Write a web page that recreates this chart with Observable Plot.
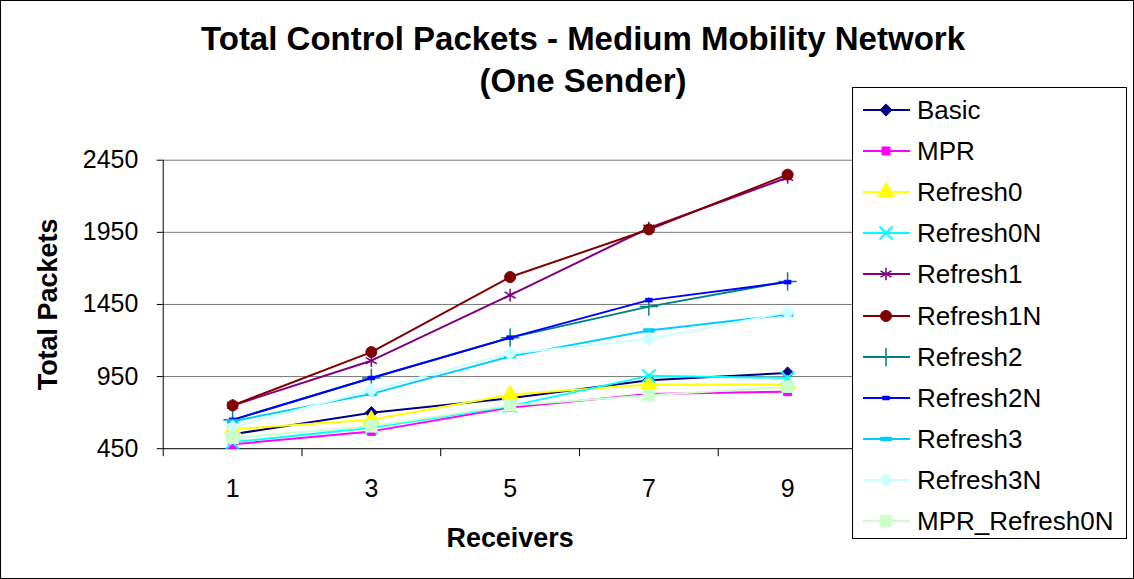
<!DOCTYPE html>
<html>
<head>
<meta charset="utf-8">
<script src="https://cdn.jsdelivr.net/npm/d3@7"></script>
<script src="https://cdn.jsdelivr.net/npm/@observablehq/plot@0.6"></script>
<style>
  html, body { margin: 0; padding: 0; background: #fff; }
  #chart { position: relative; width: 1134px; height: 579px; box-sizing: border-box; border: 1px solid #000; background: #fff; overflow: hidden; font-family: "Liberation Sans", Arial, sans-serif; }
  #chart svg.plot { position: absolute; left: -1px; top: -1px; }
  #title { position: absolute; left: 23px; width: 1118px; top: 17px; text-align: center; font-weight: bold; font-size: 33px; line-height: 42px; color: #000; }
  #legend { position: absolute; left: 851px; top: 86px; width: 275px; height: 452px; box-sizing: border-box; border: 1px solid #000; background: #fff; }
  .lg-row { position: absolute; left: 0; height: 40px; width: 270px; }
  .lg-row svg { position: absolute; left: 0; top: 0; }
  .lg-row span { position: absolute; left: 64px; top: 0; line-height: 40px; font-size: 26px; color: #000; white-space: nowrap; }
</style>
</head>
<body>
<div id="chart">
  <div id="title">Total Control Packets - Medium Mobility Network<br>(One Sender)</div>
</div>
<script>
// ---- data ----
const receivers = [1, 3, 5, 7, 9];
const yTicks = [450, 950, 1450, 1950, 2450];
const seriesNames = ["Basic", "MPR", "Refresh0", "Refresh0N", "Refresh1", "Refresh1N", "Refresh2", "Refresh2N", "Refresh3", "Refresh3N", "MPR_Refresh0N"];
const basic        = [550, 700, 800, 925, 975];
const mpr          = [480, 570, 735, 830, 845];
const refresh0     = [585, 650, 825, 895, 895];
const refresh0N    = [495, 595, 745, 955, 940];
const refresh1     = [750, 1060, 1515, 1980, 2330];
const refresh1N    = [750, 1120, 1640, 1970, 2350];
const refresh2     = [650, 940, 1220, 1435, 1610];
const refresh2N    = [650, 940, 1220, 1480, 1605];
const refresh3     = [640, 830, 1090, 1270, 1380];
const refresh3N    = [600, 855, 1110, 1210, 1395];
const mprRefresh0N = [525, 605, 750, 820, 880];
const seriesValues = [basic, mpr, refresh0, refresh0N, refresh1, refresh1N, refresh2, refresh2N, refresh3, refresh3N, mprRefresh0N];

// ---- styles ----
function rectSymbol(w, h) {
  return { draw(ctx) { ctx.moveTo(-w/2, -h/2); ctx.lineTo(w/2, -h/2); ctx.lineTo(w/2, h/2); ctx.lineTo(-w/2, h/2); ctx.closePath(); } };
}
const styles = {
  "Basic":         { color: "#000080", symbol: "diamond2", r: 5.5, fill: true,  sw: 1 },
  "MPR":           { color: "#FF00FF", symbol: "square",   r: 4.5, fill: true,  sw: 1 },
  "Refresh0":      { color: "#FFFF00", symbol: "triangle", r: 6,   fill: true,  sw: 1 },
  "Refresh0N":     { color: "#00FFFF", symbol: "times",    r: 6,   fill: false, sw: 2 },
  "Refresh1":      { color: "#800080", symbol: "asterisk", r: 6,   fill: false, sw: 1.5 },
  "Refresh1N":     { color: "#800000", symbol: "circle",   r: 5.5, fill: true,  sw: 1 },
  "Refresh2":      { color: "#008080", symbol: "plus",     r: 6,   fill: false, sw: 1.5 },
  "Refresh2N":     { color: "#0000FF", symbol: rectSymbol(7, 4),  r: 4, fill: true, sw: 0.5 },
  "Refresh3":      { color: "#00CCFF", symbol: rectSymbol(11, 4), r: 4, fill: true, sw: 0.5 },
  "Refresh3N":     { color: "#CCFFFF", symbol: "diamond2", r: 6,   fill: true,  sw: 1 },
  "MPR_Refresh0N": { color: "#CCFFCC", symbol: "square",   r: 6.5, fill: true,  sw: 1 }
};

const rows = seriesNames.flatMap((name, k) => receivers.map((x, i) => ({ series: name, x, y: seriesValues[k][i] })));

const font = '"Liberation Sans", Arial, sans-serif';
const seriesMarks = seriesNames.flatMap(name => {
  const s = styles[name];
  const d = rows.filter(r => r.series === name);
  return [
    Plot.line(d, { x: "x", y: "y", stroke: s.color, strokeWidth: 2 }),
    Plot.dot(d, { x: "x", y: "y", symbol: s.symbol, r: s.r, fill: s.fill ? s.color : "none", stroke: s.color, strokeWidth: s.sw })
  ];
});

const plot = Plot.plot({
  width: 1134,
  height: 579,
  marginLeft: 163,
  marginRight: 276,
  marginTop: 160,
  marginBottom: 130,
  style: { fontFamily: font, background: "transparent", color: "#000" },
  x: { type: "linear", domain: [0, 10] },
  y: { type: "linear", domain: [450, 2450] },
  marks: [
    Plot.gridY(yTicks.slice(1), { stroke: "#777", strokeOpacity: 1, strokeWidth: 1 }),
    Plot.ruleX([0], { stroke: "#000", strokeWidth: 1 }),
    Plot.ruleY([450], { stroke: "#000", strokeWidth: 1 }),
    Plot.axisY({ ticks: yTicks, tickSize: 6, tickPadding: 19, fontSize: 25, label: null, tickFormat: d => String(d) }),
    Plot.axisX({ ticks: [0, 2, 4, 6, 8, 10], tickSize: 8, tickFormat: () => "", label: null }),
    Plot.axisX({ ticks: receivers, tickSize: 0, tickPadding: 31, fontSize: 25, label: null, tickFormat: d => String(d) }),
    Plot.text(["Total Packets"], { frameAnchor: "left", dx: -115, rotate: -90, textAnchor: "middle", lineAnchor: "middle", fontSize: 27, fontWeight: "bold", fill: "#000" }),
    Plot.text(["Receivers"], { frameAnchor: "bottom", dy: 90, textAnchor: "middle", lineAnchor: "middle", fontSize: 27, fontWeight: "bold", fill: "#000" }),
    ...seriesMarks
  ]
});
plot.classList.add("plot");
const chart = document.getElementById("chart");
chart.appendChild(plot);

// ---- legend ----
const legend = document.createElement("div");
legend.id = "legend";
chart.appendChild(legend);
const d3Sym = { diamond2: d3.symbolDiamond2, square: d3.symbolSquare, triangle: d3.symbolTriangle, times: d3.symbolTimes, asterisk: d3.symbolAsterisk, circle: d3.symbolCircle, plus: d3.symbolPlus };
seriesNames.forEach((name, i) => {
  const s = styles[name];
  const row = document.createElement("div");
  row.className = "lg-row";
  row.style.top = (2 + i * 41.1) + "px";
  const svg = d3.create("svg").attr("width", 64).attr("height", 40);
  svg.append("line").attr("x1", 10).attr("x2", 57).attr("y1", 20).attr("y2", 20).attr("stroke", s.color).attr("stroke-width", 2);
  const type = typeof s.symbol === "string" ? d3Sym[s.symbol] : s.symbol;
  svg.append("path").attr("transform", "translate(33,20)")
    .attr("d", d3.symbol(type, s.r * s.r * Math.PI)())
    .attr("fill", s.fill ? s.color : "none").attr("stroke", s.color).attr("stroke-width", s.sw);
  row.appendChild(svg.node());
  const span = document.createElement("span");
  span.textContent = name;
  row.appendChild(span);
  legend.appendChild(row);
});
</script>
</body>
</html>
